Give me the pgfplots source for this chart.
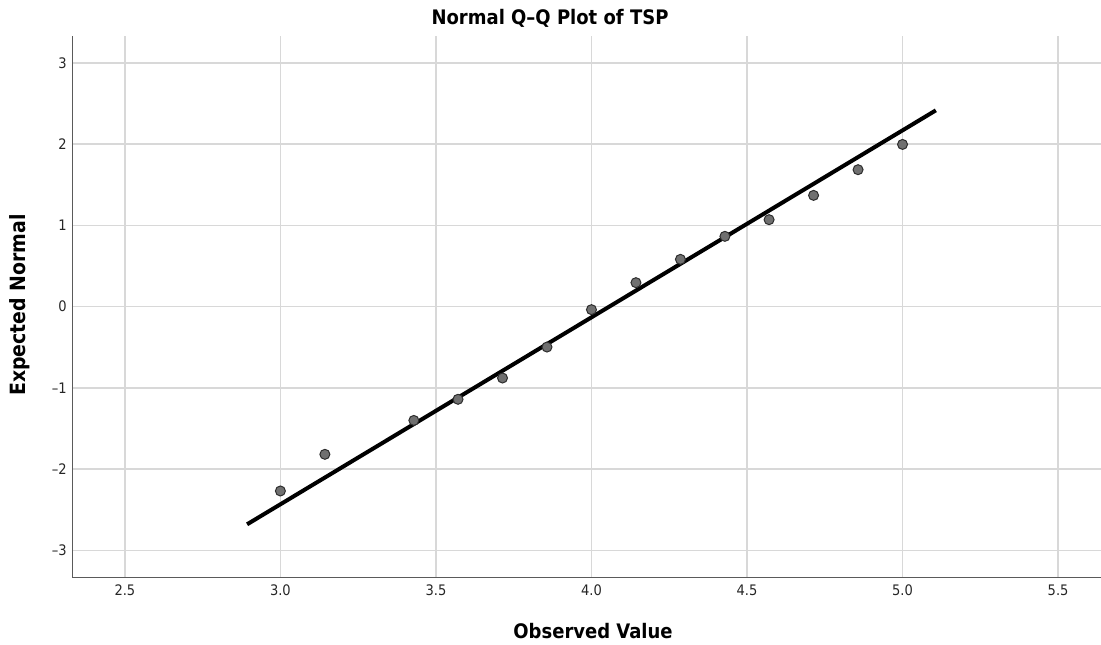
\documentclass[border=0pt]{standalone}
\usepackage{pgfplots}
\pgfplotsset{compat=1.18}
\usepackage{fontspec}
\setmainfont{DejaVu Sans Condensed}
\definecolor{gridc}{RGB}{216,216,216}
\definecolor{axisc}{RGB}{90,90,90}
\definecolor{markfill}{RGB}{112,112,112}
\definecolor{markdraw}{RGB}{45,45,45}
\begin{document}
\begin{tikzpicture}[x=1pt,y=1pt]
\useasboundingbox (0,0) rectangle (1101,645);
\begin{axis}[
  at={(72.3pt,67.7pt)}, anchor=south west,
  scale only axis,
  width=1028.7pt, height=541.3pt,
  xmin=2.331, xmax=5.638,
  ymin=-3.33, ymax=3.33,
  axis x line*=bottom, axis y line*=left,
  axis line style={color=axisc, line width=1.3pt, -},
  xtick={2.5,3.0,3.5,4.0,4.5,5.0,5.5},
  xticklabels={2.5,3.0,3.5,4.0,4.5,5.0,5.5},
  ytick={-3,-2,-1,0,1,2,3},
  yticklabels={–3,–2,–1,0,1,2,3},
  major tick length=0pt,
  grid=major,
  major grid style={color=gridc, line width=1.5pt},
  tick label style={font=\fontsize{14.5}{16}\selectfont, color=black!85},
  xticklabel style={yshift=-4pt},
  yticklabel style={xshift=-2pt},
  /pgf/number format/assume math mode=true,
  clip=false,
]
\addplot[black, line width=4pt] coordinates {(2.893,-2.678) (5.107,2.415)};
\addplot[only marks, mark=*, mark size=5pt,
  mark options={fill=markfill, draw=markdraw, line width=1pt}] coordinates {
  (3.000,-2.268) (3.143,-1.817) (3.429,-1.400) (3.571,-1.140)
  (3.714,-0.878) (3.857,-0.497) (4.000,-0.037) (4.143,0.295)
  (4.286,0.582) (4.429,0.865) (4.571,1.070) (4.714,1.369)
  (4.857,1.685) (5.000,1.996)};
\end{axis}
\node[font=\bfseries\fontsize{20}{22}\selectfont] at (550,627) {Normal Q–Q Plot of TSP};
\node[font=\bfseries\fontsize{20}{22}\selectfont] at (593,14) {Observed Value};
\node[font=\bfseries\fontsize{21}{23}\selectfont, rotate=90] at (20,340) {Expected Normal};
\end{tikzpicture}
\end{document}
